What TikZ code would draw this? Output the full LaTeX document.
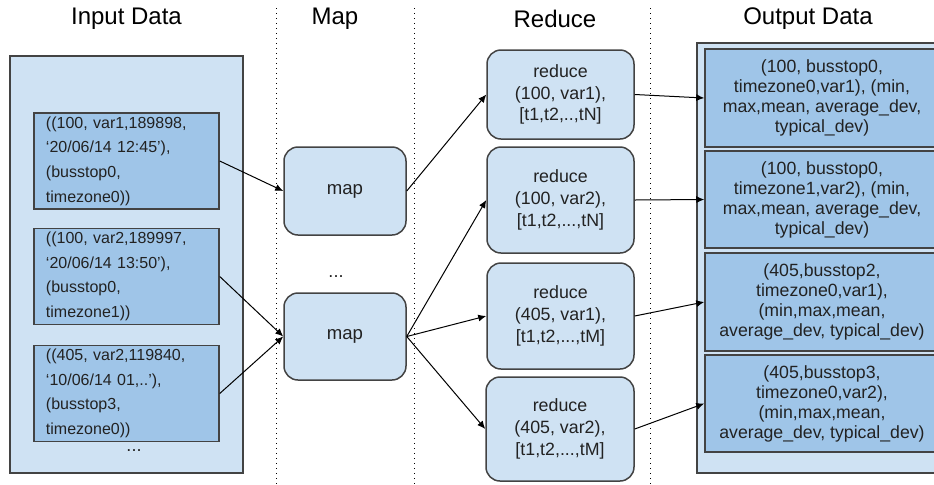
\documentclass[tikz,border=0pt]{standalone}
\usepackage{fontspec}
\setmainfont{Liberation Sans}
\usepackage{xcolor}
\usepackage{tikz}
\usetikzlibrary{arrows.meta}
\definecolor{ink}{HTML}{222222}
\definecolor{edge}{HTML}{434343}
\definecolor{pale}{HTML}{CFE2F3}
\definecolor{deep}{HTML}{9FC5E8}
\tikzset{
  panel/.style={draw=edge, fill=pale, line width=0.75pt, inner sep=0pt},
  record/.style={draw=edge, fill=deep, line width=0.75pt, text=ink, font=\fontsize{8}{12.3}\selectfont, align=left, text width=80.5pt, inner xsep=6pt, inner ysep=0pt, minimum height=48pt},
  result/.style={draw=edge, fill=deep, line width=0.75pt, text=ink, font=\fontsize{8.85}{10}\selectfont, align=center, minimum width=117pt, inner sep=0pt},
  task/.style={draw=edge, fill=pale, line width=0.75pt, rounded corners=7pt, text=ink, align=center, inner sep=0pt},
  title/.style={text=black, font=\fontsize{12}{14}\selectfont},
  divider/.style={draw=black, line width=0.5pt, dotted},
  flow/.style={draw=black, line width=0.5pt, -{Latex[length=4pt,width=3.5pt]}},
  dots/.style={text=ink, font=\fontsize{9}{10}\selectfont}
}

\begin{document}
\begin{tikzpicture}[x=0.5pt, y=-0.5pt]
  \useasboundingbox (0,0) rectangle (934,484);

  \draw[divider] (276,8) -- (276,484);
  \draw[divider] (414,8) -- (414,484);
  \draw[divider] (650,8) -- (650,484);

  \node[title] (tin) at (126.5,19) {Input Data};
  \node[title] (tmap) at (335,19) {Map};
  \node[title] (tred) at (555,19) {Reduce};
  \node[title] (tout) at (808,19) {Output Data};

  \node[panel, minimum width=116.5pt, minimum height=208.5pt] (inbg) at (126.5,264.5) {};
  \node[record] (in1) at (126.5,161) {((100, var1,189898,\\‘20/06/14 12:45’),\\(busstop0,\\timezone0))};
  \node[record] (in2) at (126.5,276.5) {((100, var2,189997,\\‘20/06/14 13:50’),\\(busstop0,\\timezone1))};
  \node[record] (in3) at (126.5,393.5) {((405, var2,119840,\\‘10/06/14 01,..’),\\(busstop3,\\timezone0))};
  \node[dots] (indots) at (134,451) {...};

  \node[task, font=\fontsize{9.3}{11}\selectfont, minimum width=61pt, minimum height=44pt] (map1) at (345,191) {map};
  \node[task, font=\fontsize{9.3}{11}\selectfont, minimum width=61pt, minimum height=43.5pt] (map2) at (345,336.5) {map};
  \node[dots] (mapdots) at (336,277) {...};

  \node[task, font=\fontsize{8.9}{10.85}\selectfont, minimum width=73.5pt, minimum height=44.5pt] (r1) at (560.5,94.5) {reduce\\(100, var1),\\{}[t1,t2,..,tN]};
  \node[task, font=\fontsize{8.9}{10.85}\selectfont, minimum width=73.5pt, minimum height=53pt] (r2) at (560.5,200) {reduce\\(100, var2),\\{}[t1,t2,...,tN]};
  \node[task, font=\fontsize{8.9}{10.85}\selectfont, minimum width=73.5pt, minimum height=53pt] (r3) at (560.5,316) {reduce\\(405, var1),\\{}[t1,t2,...,tM]};
  \node[task, font=\fontsize{8.9}{10.85}\selectfont, minimum width=74pt, minimum height=52pt] (r4) at (560,429) {reduce\\(405, var2),\\{}[t1,t2,...,tM]};

  \node[panel, minimum width=126.5pt, minimum height=215pt] (outbg) at (823.5,258) {};
  \node[result, minimum height=49pt] (o1) at (822,98) {(100, busstop0,\\timezone0,var1), (min,\\max,mean, average\_dev,\\typical\_dev)};
  \node[result, minimum height=48.5pt] (o2) at (822,199.5) {(100, busstop0,\\timezone1,var2), (min,\\max,mean, average\_dev,\\typical\_dev)};
  \node[result, minimum height=49pt] (o3) at (822,302) {(405,busstop2,\\timezone0,var1),\\(min,max,mean,\\average\_dev, typical\_dev)};
  \node[result, minimum height=48.5pt] (o4) at (822,403.5) {(405,busstop3,\\timezone0,var2),\\(min,max,mean,\\average\_dev, typical\_dev)};

  \draw[flow] (in1.east) -- (map1.west);
  \draw[flow] (in2.east) -- (map2.west);
  \draw[flow] (in3.east) -- (map2.west);
  \draw[flow] (map1.east) -- (r1.west);
  \draw[flow] (map2.east) -- (r2.west);
  \draw[flow] (map2.east) -- (r3.west);
  \draw[flow] (map2.east) -- (r4.west);
  \draw[flow] (r1.east) -- (o1.west);
  \draw[flow] (r2.east) -- (o2.west);
  \draw[flow] (r3.east) -- (o3.west);
  \draw[flow] (r4.east) -- (o4.west);
\end{tikzpicture}
\end{document}
